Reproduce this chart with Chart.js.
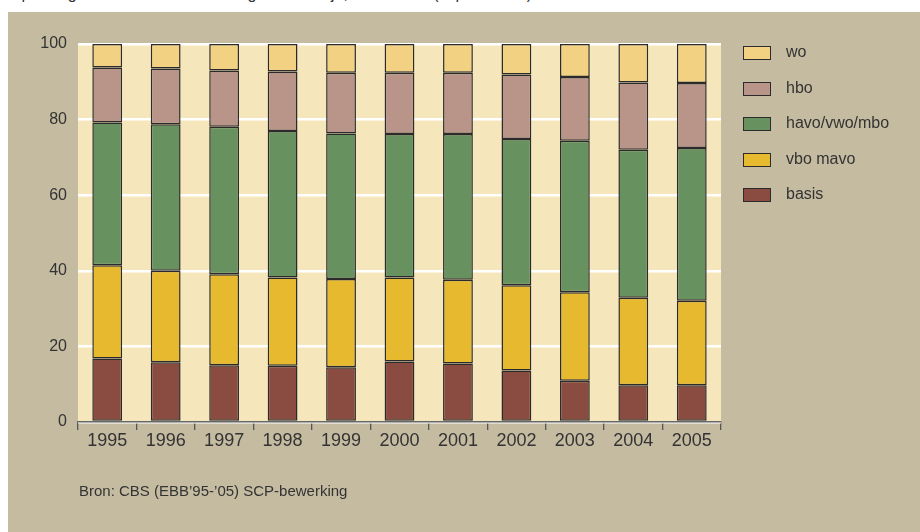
<!DOCTYPE html>
<html>
<head>
<meta charset="utf-8">
<script src="https://cdn.jsdelivr.net/npm/chart.js@4"></script>
<style>
  html, body { margin: 0; padding: 0; background: #ffffff; }
  body { width: 920px; height: 532px; position: relative; overflow: hidden; font-family: "Liberation Sans", Arial, sans-serif; color: #333; }
  #title { position: absolute; left: 9px; top: -14px; font-size: 16px; line-height: 16px; white-space: nowrap; color: #333; }
  #panel { position: absolute; left: 8px; top: 12px; right: 0; bottom: 0; background: #c5bba1; }
  #wrap { position: absolute; left: 0; top: 0; width: 920px; height: 532px; }
  #legend { position: absolute; left: 743px; top: 0; }
  .row { position: absolute; left: 0; height: 20px; width: 170px; }
  .box { position: absolute; left: 0; top: 3px; width: 26px; height: 12px; border: 1px solid #2b2b2b; }
  .lbl { position: absolute; left: 43px; top: 0; font-size: 16px; line-height: 18px; white-space: nowrap; color: #333; }
  #source { position: absolute; left: 79px; top: 482px; font-size: 15px; color: #333; white-space: nowrap; }
</style>
</head>
<body>
<div id="title">Opleidingsniveau van de bevolking naar leeftijd, 1995-2005 (in procenten)</div>
<div id="panel"></div>
<div id="wrap"><canvas id="chart" width="920" height="532"></canvas></div>
<div id="legend"></div>
<div id="source">Bron: CBS (EBB’95-’05) SCP-bewerking</div>
<script>
/* --------------- Data --------------------- */
const years = ["1995", "1996", "1997", "1998", "1999", "2000", "2001", "2002", "2003", "2004", "2005"];
const basis = [16.8, 15.8, 15.0, 14.9, 14.5, 16.0, 15.5, 13.6, 10.9, 9.7, 9.7];
const vboMavo = [24.7, 24.2, 24.1, 23.3, 23.3, 22.2, 22.1, 22.6, 23.4, 23.2, 22.4];
const havoVwoMbo = [37.7, 38.8, 39.0, 38.8, 38.5, 38.0, 38.6, 38.7, 40.1, 39.1, 40.4];
const hbo = [14.6, 14.7, 14.9, 15.7, 16.1, 16.2, 16.2, 17.0, 16.9, 17.8, 17.2];
const wo = [6.2, 6.5, 7.0, 7.3, 7.6, 7.6, 7.6, 8.1, 8.7, 10.2, 10.3];
const yTicks = [0, 20, 40, 60, 80, 100];

/* --------------- Series --------------------- */
const series = [
  { label: "basis", data: basis, color: "#8a4b41" },
  { label: "vbo mavo", data: vboMavo, color: "#e6b92f" },
  { label: "havo/vwo/mbo", data: havoVwoMbo, color: "#67925f" },
  { label: "hbo", data: hbo, color: "#b99488" },
  { label: "wo", data: wo, color: "#f2d182" },
];

/* --------------- Cream plot background --------------------- */
const plotBg = {
  id: "plotBg",
  beforeDraw(chart) {
    const { ctx, chartArea: a } = chart;
    ctx.save();
    ctx.fillStyle = "#f6e6bc";
    ctx.fillRect(a.left, a.top, a.right - a.left, a.bottom - a.top);
    ctx.restore();
  },
};

const chart = new Chart(document.getElementById("chart"), {
  type: "bar",
  plugins: [plotBg],
  data: {
    labels: years,
    datasets: series.map((s) => ({
      label: s.label,
      data: s.data,
      backgroundColor: s.color,
      borderColor: "#2b2b2b",
      borderWidth: 1.5,
      borderSkipped: false,
      categoryPercentage: 1,
      barPercentage: 0.51,
    })),
  },
  options: {
    responsive: false,
    animation: false,
    layout: { padding: { left: 0, top: 44, right: 199, bottom: 0 } },
    plugins: { legend: { display: false }, tooltip: { enabled: false } },
    scales: {
      x: {
        stacked: true,
        afterFit: (s) => { s.height = 110; },
        grid: { drawOnChartArea: false, drawTicks: true, tickLength: 8, color: "#555", lineWidth: 1.3 },
        border: { display: true, color: "#666", width: 1.5 },
        ticks: { color: "#333", padding: 0, font: { size: 18, family: "'Liberation Sans', Arial" } },
      },
      y: {
        stacked: true,
        min: 0,
        max: 100,
        afterFit: (s) => { s.width = 78; },
        afterBuildTicks: (s) => { s.ticks = yTicks.map((v) => ({ value: v })); },
        grid: { color: "#ffffff", lineWidth: 2.5, drawTicks: false },
        border: { display: false },
        ticks: { color: "#333", padding: 11, font: { size: 16, family: "'Liberation Sans', Arial" } },
      },
    },
  },
});

/* --------------- Legend (top to bottom: wo ... basis) --------------------- */
const legend = document.getElementById("legend");
const rowY = [52, 87.5, 123, 158.5, 194];
series.slice().reverse().forEach((s, i) => {
  const row = document.createElement("div");
  row.className = "row";
  row.style.top = (rowY[i] - 9) + "px";
  row.innerHTML = `<div class="box" style="background:${s.color}"></div><div class="lbl">${s.label}</div>`;
  legend.appendChild(row);
});
</script>
</body>
</html>
